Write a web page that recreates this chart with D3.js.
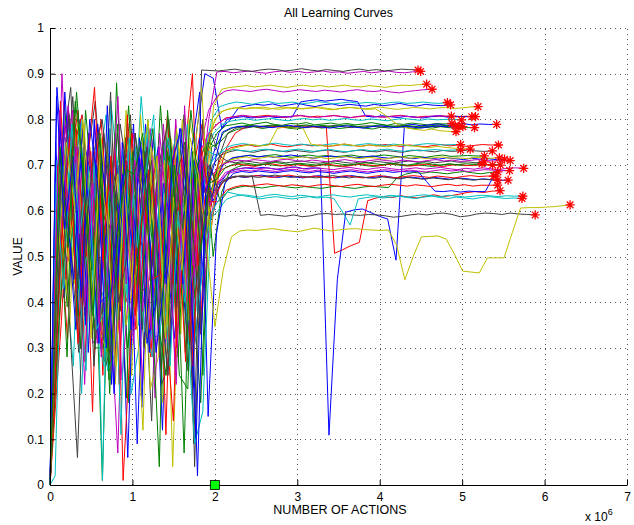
<!DOCTYPE html>
<html>
<head>
<meta charset="utf-8">
<script src="https://cdn.jsdelivr.net/npm/d3@7"></script>
<style>
  body { margin: 0; background: #fff; }
  text { font-family: "Liberation Sans", Arial, Helvetica, sans-serif; fill: #000; }
</style>
</head>
<body>
<svg id="chart" width="634" height="525"></svg>
<script>
// Value measured after each evaluation of every learning run.
// Run i is first evaluated after firstEval[i] actions, then every evalSteps[i] actions.
const run01 = [0,.62,.80,.35,.71,.48,.76,.22,.66,.74,.41,.79,.58,.12,.70,.52,.31,.77,.90,.89,
  .78,.80,.826,.830,.833,.831,.834,.829,.832,.835,.831,.828,.832,.834,.830,.833,.831,.829,.833,.830,.832,.835,.831,.829,.833,.831,.830,.832];
const run02 = [0,.45,.84,.61,.30,.77,.55,.27,.40,.69,.18,.73,.62,.48,.37,.66,.75,.29,.71,.68,
  .74,.772,.786,.789,.792,.788,.791,.794,.789,.787,.791,.790,.793,.788,.790,.792,.789,.791,.788,.790,.793,.790,.787,.791,.789,.792,.790,.788,.791,.790,.791];
const run03 = [0,.57,.32,.78,.69,.16,.74,.51,.63,.40,.47,.73,.28,.60,.81,.44,.71,.90,.35,.77,
  .79,.803,.806,.808,.805,.807,.809,.806,.804,.807,.808,.805,.807,.806,.809,.806,.804,.806,.808,.806,.805,.807,.809,.806,.805,.807,.806,.808,.805,.806,.807,.806];
const run04 = [0,.38,.76,.54,.20,.66,.68,.81,.49,.72,.33,.35,.78,.57,.20,.74,.46,.79,.48,.71,
  .80,.828,.834,.838,.836,.833,.837,.839,.835,.836,.838,.834,.836,.839,.837,.834,.836,.838,.835,.837,.836,.834,.837,.838,.835,.836,.838,.836,.835,.837];
const run05 = [0,.90,.52,.74,.33,.79,.61,.25,.70,.45,.46,.67,.77,.39,.26,.58,.72,.31,.64,.80,
  .904,.905,.902,.904,.906,.903,.901,.904,.906,.903,.905,.902,.904,.906,.903,.904,.901,.903,.905,.902,.904,.906,.903,.902,.904,.905];
const run06 = [0,.53,.71,.44,.80,.63,.38,.75,.22,.57,.24,.69,.79,.47,.61,.66,.33,.80,.72,.61,
  .83,.866,.870,.872,.874,.871,.873,.875,.872,.870,.873,.875,.872,.874,.871,.873,.875,.872,.871,.874,.872,.870,.873,.875,.874,.876,.877];
const run07 = [0,.48,.82,.66,.37,.74,.29,.78,.43,.71,.56,.52,.14,.68,.75,.40,.74,.22,.908,.907,
  .906,.908,.910,.907,.905,.908,.910,.909,.906,.908,.911,.908,.906,.909,.907,.905,.908,.910,.907,.909,.906,.908,.910,.909,.908];
const run08 = [0,.75,.41,.63,.80,.29,.70,.56,.38,.45,.67,.09,.59,.76,.50,.73,.39,.65,.30,.48,
  .70,.77,.800,.804,.806,.803,.805,.807,.804,.806,.805,.838,.841,.843,.840,.842,.844,.841,.839,.807,.805,.808,.806,.804,.807,.805,.803,.806,.808,.805,.807,.806,.806];
const run09 = [0,.66,.28,.79,.54,.34,.42,.71,.60,.19,.77,.65,.48,.83,.56,.73,.37,.69,.24,.74,
  .75,.770,.778,.781,.784,.780,.783,.785,.781,.779,.782,.784,.781,.783,.780,.782,.785,.781,.779,.783,.781,.784,.782,.780,.783,.781,.784,.782,.780,.782,.782];
const run10 = [0,.36,.69,.82,.50,.73,.24,.64,.45,.58,.34,.76,.67,.43,.78,.61,.27,.70,.79,.55,
  .68,.74,.770,.781,.785,.783,.786,.784,.782,.785,.787,.784,.783,.785,.507,.515,.524,.531,.622,.628,.631,.629,.633,.630,.628,.632,.635,.631,.633,.636,.640,.642,.640,.643,.644];
const run11 = [0,.71,.47,.26,.78,.62,.45,.39,.57,.73,.20,.31,.80,.53,.75,.45,.62,.59,.38,.73,
  .77,.789,.796,.799,.801,.798,.800,.802,.799,.797,.800,.802,.799,.801,.798,.800,.802,.799,.798,.801,.799,.797,.800,.802,.800,.798,.801,.799,.800,.800,.799];
const run12 = [0,.58,.80,.42,.69,.31,.34,.61,.77,.50,.72,.22,.67,.54,.46,.79,.63,.38,.74,.82,
  .85,.862,.865,.863,.861,.864,.866,.863,.860,.862,.865,.863,.861,.864,.862,.860,.863,.865,.862,.861,.863,.860,.858,.861,.863,.865,.866];
const run13 = [0,.30,.67,.81,.55,.74,.43,.27,.62,.36,.79,.58,.71,.51,.18,.76,.64,.42,.49,.70,
  .78,.815,.822,.825,.823,.826,.824,.822,.825,.827,.824,.823,.825,.826,.823,.821,.824,.826,.825,.823,.825,.827,.824,.822,.824,.826,.825,.823,.825,.826,.824,.825,.827,.828];
const run14 = [0,.73,.87,.45,.63,.31,.77,.55,.38,.68,.40,.74,.59,.22,.27,.66,.72,.50,.80,.61,
  .72,.770,.781,.784,.786,.783,.785,.787,.784,.782,.785,.786,.783,.785,.787,.784,.782,.785,.786,.784,.783,.785,.787,.785,.783,.786,.784,.785,.786,.785];
const run15 = [0,.52,.78,.60,.35,.80,.47,.70,.58,.06,.64,.76,.41,.69,.30,.53,.37,.72,.66,.58,
  .66,.685,.691,.694,.692,.695,.693,.690,.694,.696,.692,.694,.693,.109,.45,.597,.602,.604,.596,.588,.582,.492,.787,.789,.786,.788,.790,.787,.789,.791,.788,.790,.789,.789];
const run16 = [0,.61,.39,.74,.55,.53,.67,.23,.79,.48,.70,.34,.57,.35,.73,.62,.81,.44,.18,.63,
  .69,.705,.716,.719,.722,.718,.721,.723,.719,.717,.720,.722,.719,.721,.718,.720,.722,.719,.717,.720,.722,.720,.718,.721,.719,.717,.720,.722,.719,.720,.721,.720,.720];
const run17 = [0,.84,.49,.71,.27,.65,.80,.55,.38,.76,.60,.42,.45,.69,.11,.74,.58,.39,.66,.52,
  .68,.727,.738,.742,.745,.741,.743,.746,.742,.740,.743,.745,.742,.744,.741,.743,.746,.743,.741,.744,.742,.745,.743,.741,.744,.742,.740,.743,.745,.742,.744,.741,.743,.745,.744,.744];
const run18 = [0,.44,.72,.58,.81,.36,.64,.25,.29,.70,.53,.85,.62,.41,.76,.68,.50,.33,.57,.73,
  .72,.738,.744,.747,.745,.742,.746,.748,.745,.743,.746,.744,.742,.745,.747,.744,.742,.745,.747,.745,.743,.746,.744,.742,.745,.747,.746,.744,.745,.745];
const run19 = [0,.68,.79,.51,.74,.39,.62,.30,.57,.72,.31,.65,.78,.46,.70,.24,.59,.36,.73,.77,
  .79,.802,.806,.809,.807,.804,.806,.808,.805,.807,.809,.806,.804,.807,.808,.806,.804,.807,.809,.806,.805,.807,.808,.806,.804,.806,.808,.807,.807];
const run20 = [0,.57,.35,.79,.63,.45,.47,.70,.54,.82,.39,.66,.21,.28,.71,.60,.80,.43,.67,.72,
  .80,.818,.824,.826,.823,.825,.827,.824,.822,.825,.826,.823,.825,.827,.824,.822,.825,.826,.824,.822,.823,.812,.798,.786,.781,.778,.776,.779,.775,.774,.773];
const run21 = [0,.39,.62,.85,.48,.70,.57,.26,.33,.66,.81,.52,.74,.60,.35,.45,.69,.25,.71,.64,
  .70,.722,.729,.733,.730,.728,.732,.734,.731,.729,.732,.730,.728,.731,.733,.730,.728,.731,.733,.730,.729,.732,.730,.728,.731,.733,.731,.729,.732,.730,.731,.733,.731,.730,.731];
const run22 = [0,.80,.58,.34,.75,.66,.40,.42,.71,.55,.79,.17,.63,.74,.50,.32,.67,.39,.76,.59,
  .67,.705,.716,.719,.721,.718,.720,.717,.719,.722,.720,.717,.715,.718,.720,.717,.719,.716,.718,.720,.717,.715,.718,.716,.714,.717,.715,.713,.716,.714,.712,.715,.713,.714,.712,.713];
const run23 = [0,.55,.77,.43,.68,.30,.30,.71,.59,.83,.48,.64,.37,.75,.58,.24,.21,.69,.74,.50,
  .64,.688,.697,.701,.699,.702,.700,.698,.701,.703,.700,.698,.701,.699,.697,.700,.702,.699,.697,.700,.702,.700,.698,.701,.699,.697,.700,.702,.700,.699,.701,.700,.702,.700];
const run24 = [0,.27,.60,.74,.81,.52,.69,.41,.77,.01,.35,.63,.56,.72,.47,.44,.66,.31,.61,.70,
  .66,.690,.698,.702,.700,.697,.701,.703,.700,.698,.701,.699,.697,.700,.702,.699,.697,.700,.702,.700,.698,.701,.703,.700,.698,.700,.702,.699,.697,.700,.701,.699,.700,.701,.700];
const run25 = [0,.02,.70,.52,.79,.61,.37,.26,.66,.45,.73,.58,.34,.28,.68,.76,.54,.40,.71,.63,
  .70,.724,.731,.734,.732,.730,.733,.735,.732,.730,.733,.735,.732,.730,.733,.734,.731,.729,.732,.734,.731,.733,.735,.732,.730,.733,.731,.733,.734,.732,.733,.733];
const run26 = [0,.47,.83,.65,.22,.72,.58,.41,.07,.69,.77,.38,.61,.74,.29,.80,.42,.67,.33,.56,
  .66,.684,.690,.693,.695,.692,.694,.691,.693,.696,.693,.691,.694,.692,.690,.693,.695,.692,.690,.693,.695,.692,.690,.692,.694,.691,.693,.695,.692,.690,.693,.691,.694,.692,.690,.693,.694,.693];
const run27 = [0,.64,.42,.78,.57,.70,.34,.29,.61,.49,.74,.66,.80,.45,.71,.04,.59,.36,.68,.54,
  .66,.702,.711,.715,.718,.714,.716,.719,.716,.713,.716,.718,.715,.717,.714,.716,.719,.716,.714,.717,.715,.713,.716,.718,.715,.717,.714,.716,.718,.715,.716,.714,.717,.716,.715,.716];
const run28 = [0,.76,.53,.29,.71,.84,.60,.46,.79,.67,.38,.73,.55,.25,.62,.50,.75,.04,.69,.77,
  .72,.708,.705,.709,.707,.704,.706,.708,.705,.707,.709,.706,.704,.707,.709,.706,.704,.707,.705,.708,.706,.704,.707,.709,.706,.708,.705,.707,.709,.706,.707,.705,.707];
const run29 = [0,.33,.86,.58,.71,.44,.79,.63,.20,.75,.52,.68,.31,.39,.66,.57,.78,.47,.10,.72,
  .62,.660,.671,.675,.673,.676,.678,.675,.673,.676,.674,.672,.675,.677,.674,.672,.675,.677,.674,.672,.674,.676,.673,.671,.674,.672,.670,.673,.671,.669,.672,.670,.668,.670,.668,.667,.667];
const run30 = [0,.50,.74,.37,.82,.61,.01,.70,.56,.30,.44,.66,.78,.52,.72,.28,.64,.41,.58,.69,
  .62,.645,.651,.654,.652,.650,.653,.655,.652,.650,.653,.651,.649,.652,.654,.651,.649,.652,.654,.652,.651,.672,.680,.684,.682,.685,.683,.681,.684,.686,.683,.681,.684,.685];
const run31 = [0,.70,.45,.81,.59,.73,.36,.64,.27,.51,.77,.42,.69,.56,.38,.14,.72,.61,.48,.66,
  .63,.664,.672,.676,.674,.677,.675,.673,.676,.678,.675,.673,.676,.674,.672,.675,.677,.674,.672,.675,.677,.674,.672,.675,.677,.675,.673,.676,.674,.672,.675,.677,.675,.676,.676];
const run32 = [0,.63,.79,.48,.25,.72,.01,.84,.67,.40,.74,.59,.32,.33,.69,.77,.52,.28,.45,.58,
  .60,.625,.632,.635,.633,.630,.634,.636,.633,.631,.634,.632,.630,.633,.635,.632,.630,.633,.635,.633,.631,.634,.632,.630,.633,.635,.633,.631,.634,.632,.630,.632,.634,.633,.631,.633,.632,.632];
const run33 = [0,.40,.66,.82,.53,.77,.31,.70,.60,.23,.47,.73,.64,.19,.79,.55,.68,.40,.50,.71,
  .68,.700,.707,.711,.709,.712,.710,.708,.711,.713,.710,.708,.711,.709,.707,.710,.712,.709,.707,.710,.712,.710,.708,.711,.709,.707,.710,.712,.709,.711,.708,.710,.712,.710,.709,.710,.710];
const run34 = [0,.71,.50,.62,.79,.38,.76,.57,.68,.35,.46,.12,.74,.63,.35,.78,.60,.70,.87,.54,
  .70,.730,.738,.742,.745,.742,.744,.780,.784,.781,.783,.746,.743,.741,.744,.746,.743,.741,.744,.742,.740,.743,.745,.742,.740,.738,.741,.739,.737,.736,.735];
const run35 = [0,.58,.81,.43,.67,.26,.53,.86,.36,.70,.62,.30,.48,.72,.80,.57,.66,.09,.71,.63,
  .66,.672,.676,.674,.677,.590,.592,.590,.588,.591,.587,.589,.593,.594,.592,.593,.591,.590,.592,.591,.589,.586,.588,.591,.593,.591,.594,.595,.592,.587,.589,.593,.595,.594,.592,.595,.593,.592,.591];
const run36 = [0,.87,.62,.45,.78,.56,.31,.83,.40,.66,.52,.75,.29,.68,.44,.61,.44,.73,.86,.15,
  .55,.660,.682,.686,.684,.687,.685,.683,.686,.688,.685,.683,.686,.684,.682,.685,.687,.684,.682,.685,.687,.684,.686,.685,.686,.664,.643,.642,.644,.641,.643,.642,.642,.676];
const run37 = [0,.35,.58,.84,.69,.47,.77,.29,.88,.51,.73,.40,.66,.36,.24,.70,.56,.82,.64,.75,
  .74,.772,.781,.785,.787,.784,.786,.788,.785,.783,.786,.788,.785,.787,.784,.786,.788,.785,.783,.786,.788,.786,.784,.787,.785,.783,.786,.788,.786,.786];
const run38 = [0,.54,.76,.31,.68,.87,.49,.72,.22,.81,.37,.65,.45,.46,.70,.30,.58,.26,.74,.62,
  .62,.645,.652,.656,.654,.657,.659,.656,.654,.657,.655,.653,.656,.658,.655,.653,.656,.658,.655,.653,.656,.658,.656,.654,.657,.655,.653,.656,.658,.655,.657,.654,.656,.656,.656];
const run39 = [0,.66,.43,.79,.55,.70,.34,.38,.64,.11,.76,.52,.68,.81,.47,.26,.60,.39,.09,.16,
  .595,.625,.641,.637,.633,.630,.626,.629,.631,.628,.626,.629,.631,.628,.630,.627,.600,.569,.626,.629,.631,.628,.630,.632,.629,.627,.630,.632,.629,.627,.630,.628,.626,.629,.631,.629,.627,.628,.627];
const run40 = [0,.82,.60,.74,.39,.66,.28,.53,.85,.44,.71,.63,.34,.77,.58,.22,.83,.48,.72,.61,
  .66,.680,.686,.689,.687,.690,.688,.686,.689,.691,.688,.686,.689,.687,.685,.688,.690,.687,.685,.688,.690,.688,.686,.689,.687,.685,.688,.690,.687,.689,.686,.688,.690,.689,.688,.688];
const run41 = [0,.49,.75,.61,.80,.32,.70,.57,.26,.66,.43,.81,.54,.72,.32,.63,.47,.76,.68,.52,
  .346,.47,.543,.556,.558,.557,.559,.561,.558,.556,.554,.558,.562,.559,.556,.558,.560,.561,.559,.558,.557,.558,.525,.449,.500,.543,.544,.545,.538,.505,.468,.466,.464,.497,.497,.497,.552,.606,.607,.607,.608,.609,.611,.613];
const run42 = [0,.69,.37,.06,.56,.73,.80,.64,.40,.50,.77,.59,.71,.42,.24,.67,.75,.55,.33,.70,
  .65,.668,.674,.677,.675,.673,.676,.678,.675,.673,.676,.674,.672,.675,.677,.674,.672,.675,.673,.671,.674,.672,.670,.673,.671,.669,.672,.670,.668,.671,.669,.667,.669,.668,.667];
const run43 = [0,.85,.56,.72,.41,.80,.65,.30,.50,.68,.34,.76,.61,.29,.45,.71,.78,.58,.02,.64,
  .70,.772,.781,.785,.783,.786,.784,.782,.785,.787,.784,.782,.785,.783,.781,.784,.786,.783,.781,.784,.786,.784,.782,.785,.783,.781,.784,.786,.784,.784,.784];
const run44 = [0,.74,.52,.86,.63,.37,.71,.20,.55,.69,.68,.77,.44,.04,.82,.59,.07,.73,.51,.66,
  .67,.695,.702,.705,.703,.700,.703,.706,.703,.701,.704,.702,.700,.703,.705,.702,.700,.703,.705,.703,.701,.704,.702,.700,.703,.705,.702,.700,.703,.701,.703,.702,.703];

const runs = [run01, run02, run03, run04, run05, run06, run07, run08, run09, run10, run11,
  run12, run13, run14, run15, run16, run17, run18, run19, run20, run21, run22, run23, run24,
  run25, run26, run27, run28, run29, run30, run31, run32, run33, run34, run35, run36, run37,
  run38, run39, run40, run41, run42, run43, run44];

// Actions before the first evaluation, per run
const firstEval = [131000, 74000, 112000, 88000, 145000, 96000, 122000, 68000, 104000, 139000,
  83000, 117000, 92000, 151000, 130000, 108000, 127000, 86000, 99000, 143000, 77000, 114000,
  134000, 90000, 62000, 119000, 101000, 148000, 80000, 125000, 94000, 137000, 72000, 110000,
  129000, 84000, 106000, 141000, 66000, 116000, 97000, 133000, 79000, 121000];

// Actions between two later evaluations, per run
const evalSteps = [102800, 98000, 101000, 98600, 98900, 99400, 101000, 99000, 103000, 100400,
  100200, 100400, 98100, 100200, 101700, 101200, 98400, 102000, 101500, 97600, 99800, 100000,
  102500, 99600, 98400, 100500, 99100, 100400, 99600, 102100, 100200, 100000, 100200, 101800,
  101000, 101900, 100200, 99800, 99300, 101100, 100200, 100000, 100600, 100400];

const xTicks = [0, 1e6, 2e6, 3e6, 4e6, 5e6, 6e6, 7e6];
const xTickLabels = ["0", "1", "2", "3", "4", "5", "6", "7"];
const yTicks = [0, 0.1, 0.2, 0.3, 0.4, 0.5, 0.6, 0.7, 0.8, 0.9, 1];
const yTickLabels = ["0", "0.1", "0.2", "0.3", "0.4", "0.5", "0.6", "0.7", "0.8", "0.9", "1"];
const switchPoint = { actions: 2e6, value: 0 };

// line colour order, cycled over the runs
const palette = ["#0000ff", "#008000", "#ff0000", "#00bfbf", "#bf00bf", "#bfbf00", "#404040"];

const svg = d3.select("#chart");
const margin = { left: 50, right: 7, top: 28, bottom: 40 };
const W = 634, H = 525;

const x = d3.scaleLinear().domain([0, 7e6]).range([margin.left, W - margin.right]);
const y = d3.scaleLinear().domain([0, 1]).range([H - margin.bottom, margin.top]);

svg.append("rect").attr("width", W).attr("height", H).attr("fill", "#fff");

// dotted grid
const grid = svg.append("g").attr("stroke", "#555").attr("stroke-width", 1)
  .attr("stroke-dasharray", "1,4").attr("fill", "none");
grid.selectAll("line.v").data(xTicks.slice(1)).join("line").attr("class", "v")
  .attr("x1", d => Math.round(x(d)) + 0.5).attr("x2", d => Math.round(x(d)) + 0.5)
  .attr("y1", y(0)).attr("y2", y(1));
grid.selectAll("line.h").data(yTicks.slice(1)).join("line").attr("class", "h")
  .attr("y1", d => Math.round(y(d)) + 0.5).attr("y2", d => Math.round(y(d)) + 0.5)
  .attr("x1", x(0)).attr("x2", x(7e6));

// action count at evaluation k of run i
const actionsAt = (i, k) => k === 0 ? 0 : firstEval[i] + (k - 1) * evalSteps[i];

// learning curves
const line = d3.line();
const plot = svg.append("g").attr("fill", "none").attr("stroke-width", 1)
  .attr("stroke-linejoin", "round");
runs.forEach((vals, i) => {
  plot.append("path")
    .attr("stroke", palette[i % palette.length])
    .attr("d", line(vals.map((v, k) => [x(actionsAt(i, k)), y(v)])));
});

// final value of each run
const r = 4.6, dd = r * 0.72;
const star = `M${-r},0H${r}M0,${-r}V${r}M${-dd},${-dd}L${dd},${dd}M${-dd},${dd}L${dd},${-dd}`;
svg.append("g").attr("stroke", "#ff0000").attr("stroke-width", 1.3).attr("fill", "none")
  .selectAll("path").data(runs.map((vals, i) => [actionsAt(i, vals.length - 1), vals[vals.length - 1]]))
  .join("path")
  .attr("transform", d => `translate(${x(d[0])},${y(d[1])})`)
  .attr("d", star);

// axes
const xAxis = d3.axisBottom(x).tickValues(xTicks).tickFormat((d, i) => xTickLabels[i])
  .tickSizeInner(-5).tickSizeOuter(0).tickPadding(7);
const yAxis = d3.axisLeft(y).tickValues(yTicks).tickFormat((d, i) => yTickLabels[i])
  .tickSizeInner(-5).tickSizeOuter(0).tickPadding(6);
const gx = svg.append("g").attr("transform", `translate(0,${y(0)})`).call(xAxis);
const gy = svg.append("g").attr("transform", `translate(${x(0)},0)`).call(yAxis);
[gx, gy].forEach(g => {
  g.selectAll("text").attr("font-size", 12).attr("font-family", "Liberation Sans, Arial, sans-serif").attr("fill", "#000");
  g.selectAll("line,path").attr("stroke", "#000");
});

// switch marker
svg.append("rect")
  .attr("x", x(switchPoint.actions) - 4.5).attr("y", y(switchPoint.value) - 4.5)
  .attr("width", 9).attr("height", 9)
  .attr("fill", "#00ff00").attr("stroke", "#000").attr("stroke-width", 0.8);

// labels
svg.append("text").attr("x", (x(0) + x(7e6)) / 2).attr("y", 17)
  .attr("text-anchor", "middle").attr("font-size", 12.5).text("All Learning Curves");
svg.append("text").attr("x", 340).attr("y", 514)
  .attr("text-anchor", "middle").attr("font-size", 12.5).text("NUMBER OF ACTIONS");
svg.append("text").attr("transform", `translate(22,${(y(0) + y(1)) / 2}) rotate(-90)`)
  .attr("text-anchor", "middle").attr("font-size", 12).text("VALUE");
const mult = svg.append("text").attr("x", 585).attr("y", 521).attr("font-size", 12);
mult.append("tspan").text("x 10");
mult.append("tspan").attr("dy", -6).attr("font-size", 9).text("6");
</script>
</body>
</html>
